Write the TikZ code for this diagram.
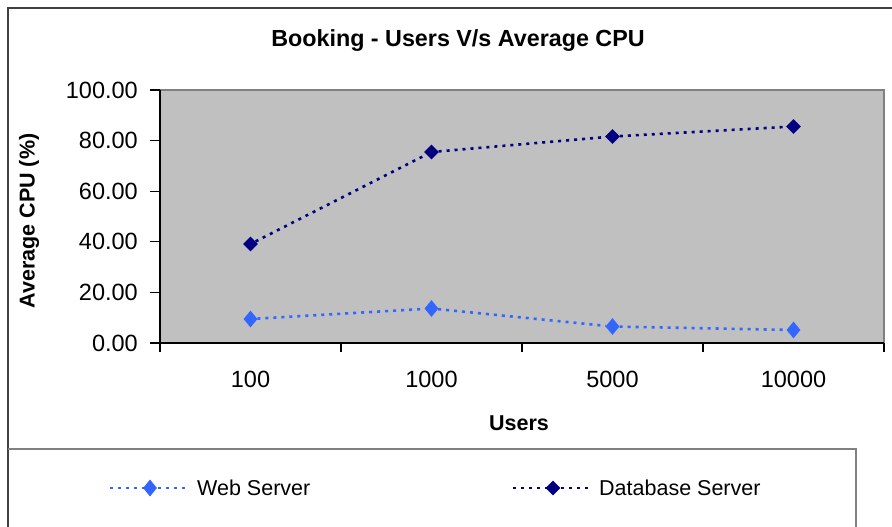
\documentclass[tikz,border=0pt]{standalone}
\usepackage{fontspec}
\setmainfont{Liberation Sans}
\usetikzlibrary{shapes.geometric}

\definecolor{plotbg}{HTML}{C0C0C0}
\definecolor{webblue}{HTML}{3366FF}
\definecolor{dbnavy}{HTML}{000080}
\definecolor{framegray}{HTML}{404040}

\tikzset{
  frameline/.style={draw=framegray, line width=2pt},
  legendline/.style={draw=gray, line width=1.2pt},
  tickline/.style={draw=black, line width=1.2pt},
  ticklabel/.style={font=\fontsize{23.5}{23.5}\selectfont, inner sep=0pt},
  axistitle/.style={font=\bfseries\fontsize{21.5}{21.5}\selectfont, inner sep=0pt},
  chartitle/.style={font=\bfseries\fontsize{23.3}{23.3}\selectfont, inner sep=0pt},
  legendtext/.style={font=\fontsize{21.5}{21.5}\selectfont, inner sep=0pt, anchor=west},
  series/.style={line width=2.6pt, dash pattern=on 3pt off 5pt},
  webmark/.style={diamond, fill=webblue, draw=none, inner sep=0pt, minimum width=14pt, minimum height=17pt},
  dbmark/.style={diamond, fill=dbnavy, draw=none, inner sep=0pt, minimum width=15pt, minimum height=15pt},
}

\begin{document}
\begin{tikzpicture}[x=1pt, y=-1pt]
  \useasboundingbox (0,0) rectangle (892,527);
  \fill[white] (0,0) rectangle (892,527);

  % outer chart frame
  \draw[frameline] (8,527) -- (8,8) -- (892,8);

  % title
  \node[chartitle] (title) at (458,41) {Booking - Users V/s Average CPU};

  % plot area
  \fill[plotbg] (160,90) rectangle (884,343);
  \draw[draw=gray, line width=1.5pt] (160,90) -- (884,90) -- (884,343);
  \draw[tickline] (160,90) -- (160,352);
  \draw[tickline] (150,343) -- (884,343);

  % y ticks and labels
  \foreach \v/\lab in {0/0.00, 20/20.00, 40/40.00, 60/60.00, 80/80.00, 100/100.00} {
    \pgfmathsetmacro{\yy}{343-2.53*\v}
    \draw[tickline] (150,\yy) -- (160,\yy);
    \node[ticklabel, anchor=east] (ylab\v) at (138,\yy) {\lab};
  }

  % x ticks and category labels
  \foreach \xx in {341,522,703,884} {
    \draw[tickline] (\xx,343) -- (\xx,352);
  }
  \node[ticklabel] (x100)   at (250.5,379) {100};
  \node[ticklabel] (x1000)  at (431.5,379) {1000};
  \node[ticklabel] (x5000)  at (612.5,379) {5000};
  \node[ticklabel] (x10000) at (793.5,379) {10000};

  % axis titles
  \node[axistitle] (xtitle) at (519,423) {Users};
  \node[axistitle, rotate=90] (ytitle) at (29,221) {Average CPU (\%)};

  % Database Server series
  \node[dbmark] (d1) at (250.5,244) {};
  \node[dbmark] (d2) at (431.5,152) {};
  \node[dbmark] (d3) at (612.5,136.5) {};
  \node[dbmark] (d4) at (793.5,126.5) {};
  \draw[series, dbnavy] (d1) -- (d2) -- (d3) -- (d4);

  % Web Server series
  \node[webmark] (w1) at (250.5,319) {};
  \node[webmark] (w2) at (431.5,308.5) {};
  \node[webmark] (w3) at (612.5,326.5) {};
  \node[webmark] (w4) at (793.5,330) {};
  \draw[series, webblue] (w1) -- (w2) -- (w3) -- (w4);

  % legend box
  \draw[legendline] (8,449) -- (856,449) -- (856,527);

  % legend entries
  \coordinate (lwa) at (110,488);
  \coordinate (lwb) at (189,488);
  \draw[series, webblue] (lwa) -- (lwb);
  \node[webmark] (lwm) at (150,488) {};
  \node[legendtext] (lwt) at (197,488) {Web Server};

  \coordinate (lda) at (513,488);
  \coordinate (ldb) at (590,488);
  \draw[series, dbnavy] (lda) -- (ldb);
  \node[dbmark] (ldm) at (553,488) {};
  \node[legendtext] (ldt) at (599,488) {Database Server};
\end{tikzpicture}
\end{document}
